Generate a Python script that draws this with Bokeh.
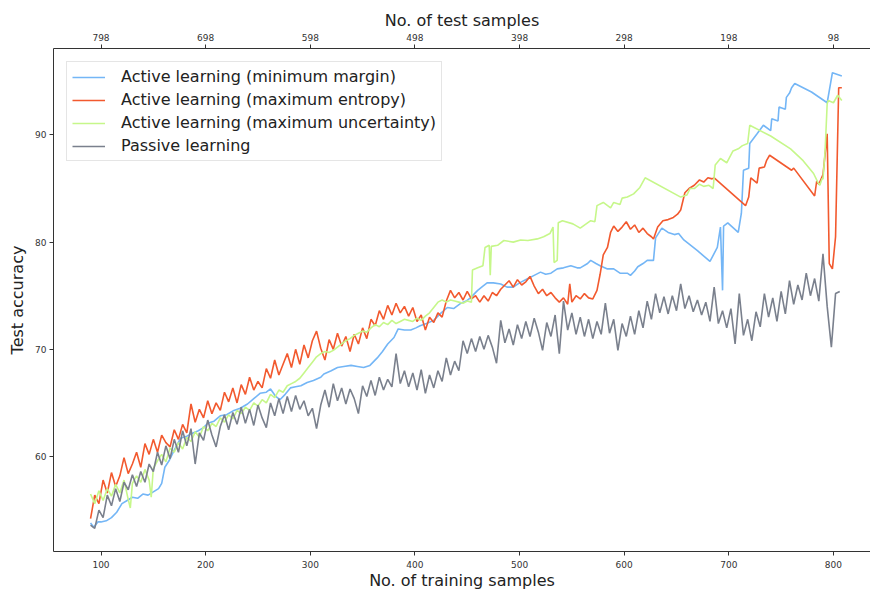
from bokeh.plotting import figure
from bokeh.models import Range1d, LinearAxis, FixedTicker, Legend, LegendItem
from bokeh.embed import file_html
from bokeh.resources import INLINE

# ---------------- data ----------------
train_ticks = [100, 200, 300, 400, 500, 600, 700, 800]
test_tick_labels = ["798", "698", "598", "498", "398", "298", "198", "98"]
acc_ticks = [60, 70, 80, 90]

series_names = [
    "Active learning (minimum margin)",
    "Active learning (maximum entropy)",
    "Active learning (maximum uncertainty)",
    "Passive learning",
]

# (training samples, test accuracy)
margin_pts = [
    (90, 53.8), (93, 53.4), (97, 53.9), (100, 53.9), (105, 54.0), (110, 54.3), (115, 54.8),
    (120, 55.6), (125, 55.9), (130, 56.2), (135, 56.1), (140, 56.5), (145, 56.4), (150, 56.7),
    (155, 57.0), (158, 57.5), (161, 59.0), (165, 59.6), (170, 60.6), (176, 61.7), (182, 61.9),
    (188, 62.2), (193, 62.4), (198, 62.7), (202, 63.1), (208, 63.3), (214, 63.8), (220, 63.9),
    (227, 64.3), (233, 64.5), (240, 64.9), (246, 65.4), (252, 65.9), (258, 66.0), (262, 66.3),
    (267, 65.6), (271, 65.3), (276, 65.8), (281, 66.4), (286, 66.5), (291, 66.6), (297, 66.9),
    (303, 67.1), (310, 67.4), (313, 67.7), (320, 68.0), (326, 68.3), (332, 68.4), (339, 68.5),
    (345, 68.4), (351, 68.3), (357, 68.5), (364, 69.2), (369, 69.8), (374, 70.5), (380, 71.1),
    (384, 71.9), (390, 71.8), (396, 71.8), (401, 72.0), (405, 72.2), (411, 72.4), (418, 72.7),
    (424, 73.3), (431, 73.9), (437, 73.8), (444, 74.3), (449, 74.5), (453, 74.8), (460, 75.5),
    (465, 75.9), (469, 76.2), (475, 76.2), (482, 76.1), (488, 75.8), (494, 75.8), (500, 76.2),
    (508, 76.6), (514, 76.9), (520, 77.2), (525, 77.0), (530, 77.1), (536, 77.5), (542, 77.6),
    (549, 77.8), (555, 77.6), (558, 77.6), (565, 78.0), (568, 78.3), (573, 78.0), (577, 77.8),
    (584, 77.5), (590, 77.5), (596, 77.1), (603, 77.1), (606, 76.9), (610, 77.3), (613, 77.7),
    (618, 78.0), (622, 78.3), (628, 78.3), (630, 80.4), (636, 81.3), (642, 80.9), (648, 80.7),
    (652, 80.8), (657, 80.2), (670, 79.2), (682, 78.2), (689, 79.5), (692, 81.4), (694, 75.5),
    (695, 81.5), (699, 81.8), (709, 80.9), (712, 82.7), (714, 86.7), (719, 86.9), (720, 89.2),
    (727, 90.1), (733, 90.9), (740, 90.4), (741, 91.5), (747, 91.3), (748, 92.6), (754, 92.4),
    (755, 93.5), (758, 93.9), (760, 94.4), (763, 94.8), (779, 94.0), (794, 93.0), (799, 95.8),
    (808, 95.5),
]

entropy_pts = [
    (90, 54.2), (94, 56.4), (98, 55.6), (102, 57.8), (106, 56.6), (110, 58.5), (114, 57.2),
    (118, 58.2), (122, 59.9), (126, 58.4), (130, 59.3), (134, 60.4), (138, 59.0), (142, 61.2),
    (146, 60.2), (150, 61.6), (154, 60.4), (158, 62.0), (162, 61.3), (166, 60.9), (170, 62.5),
    (174, 61.6), (178, 63.0), (182, 62.2), (186, 64.9), (190, 63.2), (194, 64.4), (198, 63.6),
    (202, 65.2), (206, 64.0), (210, 65.0), (214, 64.3), (218, 66.0), (222, 65.1), (226, 66.4),
    (230, 65.0), (234, 66.7), (238, 65.8), (242, 67.4), (246, 66.2), (250, 67.0), (254, 66.4),
    (258, 68.2), (262, 67.3), (266, 69.0), (270, 67.6), (274, 68.6), (278, 69.6), (282, 68.3),
    (286, 70.0), (290, 68.6), (294, 70.4), (298, 69.2), (302, 70.8), (306, 71.7), (310, 70.1),
    (314, 69.0), (318, 70.9), (322, 70.0), (326, 71.5), (330, 70.3), (334, 71.2), (338, 69.8),
    (342, 71.4), (346, 70.5), (350, 72.0), (354, 71.0), (358, 72.8), (362, 72.2), (366, 73.6),
    (370, 72.8), (374, 74.1), (378, 73.2), (382, 74.3), (386, 73.4), (390, 74.0), (394, 73.1),
    (398, 73.9), (402, 72.6), (406, 73.2), (410, 71.8), (414, 73.0), (418, 72.5), (422, 73.4),
    (426, 73.0), (430, 74.5), (434, 75.5), (438, 74.8), (442, 75.3), (446, 74.6), (450, 75.4),
    (454, 74.7), (458, 75.0), (462, 74.4), (466, 75.0), (470, 74.5), (474, 75.3), (478, 75.0),
    (482, 75.6), (486, 76.0), (490, 76.4), (494, 75.8), (498, 76.5), (502, 76.0), (506, 76.3),
    (510, 76.8), (514, 75.9), (518, 75.2), (522, 75.6), (526, 75.0), (530, 75.3), (534, 74.8),
    (538, 74.4), (542, 74.8), (546, 74.2), (548, 76.1), (550, 74.4), (554, 75.0), (558, 74.7),
    (562, 75.2), (566, 74.8), (570, 74.7), (574, 75.5), (577, 77.0), (580, 78.8), (584, 79.5),
    (587, 80.9), (590, 81.5), (594, 81.0), (598, 81.4), (602, 81.9), (606, 81.2), (610, 81.6),
    (614, 80.9), (618, 81.3), (622, 80.8), (626, 80.5), (628, 80.3), (632, 81.4), (637, 82.0),
    (642, 82.1), (647, 82.3), (651, 82.6), (654, 83.0), (658, 84.6), (662, 85.0), (667, 85.3),
    (672, 85.8), (676, 85.6), (680, 86.0), (684, 85.9), (686, 86.0), (716, 83.4), (719, 84.2),
    (721, 86.0), (727, 85.5), (729, 86.9), (734, 87.0), (736, 87.6), (739, 88.1), (760, 86.7),
    (762, 86.9), (782, 84.3), (784, 85.7), (786, 85.4), (790, 86.3), (794, 90.1), (796, 78.0),
    (799, 77.5), (802, 80.5), (805, 94.4), (808, 94.4),
]

uncertainty_pts = [
    (90, 56.5), (94, 55.6), (98, 56.8), (102, 55.9), (106, 57.0), (110, 56.3), (114, 57.4),
    (118, 56.6), (122, 57.8), (126, 56.0), (128, 55.2), (130, 57.5), (134, 58.2), (138, 57.6),
    (142, 58.8), (146, 57.8), (148, 56.2), (150, 58.9), (154, 59.6), (158, 60.2), (162, 59.5),
    (166, 60.8), (170, 60.4), (174, 61.3), (178, 60.7), (182, 61.8), (186, 61.4), (190, 62.3),
    (194, 61.8), (198, 62.8), (202, 62.4), (206, 63.1), (210, 62.8), (214, 63.6), (218, 63.2),
    (222, 63.9), (226, 63.5), (230, 64.3), (234, 64.0), (238, 64.6), (242, 64.3), (246, 65.0),
    (250, 64.7), (254, 65.3), (258, 65.0), (262, 65.8), (266, 65.5), (270, 66.2), (274, 66.0),
    (278, 66.6), (282, 66.8), (286, 67.0), (290, 67.3), (294, 67.8), (298, 68.3), (302, 68.8),
    (306, 69.3), (310, 69.6), (314, 69.8), (318, 69.7), (322, 69.9), (326, 70.2), (330, 70.5),
    (334, 70.8), (338, 71.0), (342, 71.3), (346, 71.5), (350, 71.7), (354, 71.6), (358, 72.0),
    (362, 72.3), (366, 72.1), (370, 72.5), (374, 72.3), (378, 72.7), (382, 72.4), (386, 72.6),
    (390, 72.8), (394, 72.7), (398, 72.6), (402, 72.9), (406, 72.7), (410, 73.1), (414, 73.4),
    (418, 73.9), (422, 74.4), (426, 74.6), (430, 74.4), (434, 74.6), (438, 74.5), (442, 74.4),
    (446, 74.3), (450, 74.5), (454, 74.4), (455, 77.4), (460, 77.6), (465, 77.8), (467, 79.5),
    (471, 79.7), (472, 76.9), (473, 79.6), (479, 79.7), (485, 80.15), (494, 80.0), (501, 80.2),
    (508, 80.15), (517, 80.3), (523, 80.5), (529, 80.8), (532, 81.4), (533, 78.1), (536, 78.3),
    (537, 81.8), (541, 82.0), (551, 81.7), (558, 81.3), (568, 82.0), (572, 81.9), (574, 83.4),
    (580, 83.7), (587, 83.2), (590, 83.7), (596, 83.5), (598, 84.1), (603, 84.2), (609, 84.5),
    (615, 85.1), (620, 86.0), (654, 84.2), (660, 84.4), (663, 85.0), (667, 85.0), (672, 85.4),
    (676, 85.2), (681, 85.3), (685, 85.0), (687, 87.2), (692, 87.8), (698, 87.4), (704, 88.5),
    (709, 88.7), (713, 89.0), (718, 89.2), (720, 90.9), (740, 89.9), (759, 88.7), (771, 87.6),
    (781, 86.4), (785, 85.6), (787, 85.3), (789, 85.9), (790, 85.9), (792, 88.5), (794, 92.9),
    (795, 93.2), (800, 93.0), (804, 93.7), (808, 93.2),
]

# passive learning: one value every 4 training samples, starting at 90
passive_start, passive_step = 90, 4
passive_acc = [
    53.6, 53.3, 55.0, 54.3, 56.4, 55.4, 57.0, 55.8, 57.6, 56.9,
    58.3, 57.2, 58.6, 57.6, 59.3, 58.6, 60.4, 59.2, 61.0, 59.8,
    61.6, 60.4, 62.4, 61.0, 62.6, 59.3, 62.2, 61.5, 63.4, 62.0,
    60.9, 62.8, 63.9, 62.5, 64.1, 63.0, 64.6, 63.1, 64.4, 62.9,
    64.8, 63.6, 62.7, 65.0, 63.8, 65.4, 64.0, 65.6, 64.2, 65.7,
    64.4, 65.2, 63.8, 64.5, 62.6, 64.8, 66.2, 64.6, 66.8, 65.2,
    66.4, 64.9, 66.3, 65.4, 64.0, 66.6, 65.6, 67.1, 65.7, 67.4,
    66.2, 67.2, 66.5, 69.6, 66.8, 68.0, 66.5, 67.8, 66.2, 68.1,
    65.9, 67.6, 66.4, 68.0, 67.0, 69.2, 67.6, 68.9, 68.0, 70.8,
    69.6, 71.0, 69.8, 71.2, 70.0, 71.3, 70.2, 68.7, 72.7, 70.6,
    71.9, 70.4, 72.3, 71.0, 72.6, 71.2, 72.9, 71.6, 69.9, 72.5,
    71.2, 73.2, 69.6, 74.5, 71.8, 73.4, 71.4, 73.0, 71.2, 72.8,
    71.0, 72.6, 71.4, 74.3, 71.5, 72.8, 69.9, 72.4, 71.2, 73.1,
    71.4, 73.6, 72.0, 74.5, 72.8, 75.2, 73.4, 74.9, 73.3, 75.0,
    73.6, 76.1, 73.8, 75.0, 73.5, 74.6, 73.2, 74.4, 72.6, 75.8,
    72.4, 73.6, 72.0, 73.8, 70.5, 75.2, 71.3, 72.8, 70.8, 73.5,
    72.1, 75.2, 73.0, 74.8, 72.6, 75.4, 73.3, 76.4, 74.2, 76.0,
    74.6, 77.1, 75.0, 76.6, 74.5, 78.9, 74.0, 70.2, 75.2, 75.4,
]

colors = ["#74b6f6", "#f2592e", "#c6f78a", "#7a808d"]

# ---------------- figure ----------------
FONT = "DejaVu Sans"
p = figure(width=870, height=592, output_backend="svg", toolbar_location=None,
           x_range=Range1d(54.6, 835.4), y_range=Range1d(51.14, 98.06),
           min_border_left=53, min_border_right=0, min_border_top=48, min_border_bottom=41,
           x_axis_label="No. of training samples", y_axis_label="Test accuracy")
p.outline_line_color = None
p.grid.visible = False
p.background_fill_color = "white"
p.border_fill_color = "white"

top_axis = LinearAxis(ticker=FixedTicker(ticks=train_ticks),
                      major_label_overrides=dict(zip(train_ticks, test_tick_labels)),
                      axis_label="No. of test samples")
p.add_layout(top_axis, "above")
bottom_axis = p.below[0]
bottom_axis.ticker = FixedTicker(ticks=train_ticks)
p.yaxis.ticker = FixedTicker(ticks=acc_ticks)

for ax in [bottom_axis, top_axis] + list(p.yaxis):
    ax.axis_line_color = "#333333"
    ax.axis_line_width = 1
    ax.major_tick_line_color = "#333333"
    ax.major_tick_out = 4
    ax.major_tick_in = 0
    ax.minor_tick_line_color = None
    ax.major_label_text_font = FONT
    ax.major_label_text_font_size = "9px"
    ax.major_label_text_color = "#333333"
    ax.axis_label_text_font = FONT
    ax.axis_label_text_font_size = "16px"
    ax.axis_label_text_font_style = "normal"
    ax.axis_label_text_color = "#222222"
bottom_axis.major_label_standoff = 5
bottom_axis.axis_label_standoff = 0
top_axis.major_label_standoff = 4
top_axis.axis_label_standoff = 1
p.yaxis.major_label_standoff = 3
p.yaxis.axis_label_standoff = 5

renderers = []
for pts, c in zip([margin_pts, entropy_pts, uncertainty_pts], colors[:3]):
    xs = [a for a, b in pts]
    ys = [b for a, b in pts]
    renderers.append(p.line(xs, ys, line_color=c, line_width=1.6))
passive_x = [passive_start + passive_step * i for i in range(len(passive_acc))]
renderers.append(p.line(passive_x, passive_acc, line_color=colors[3], line_width=1.6))

legend = Legend(items=[LegendItem(label=n, renderers=[r]) for n, r in zip(series_names, renderers)],
                location="top_left")
legend.margin = 13
legend.padding = 5
legend.spacing = 4
legend.glyph_width = 33
legend.glyph_height = 18
legend.label_height = 18
legend.label_standoff = 16
legend.label_text_font = FONT
legend.label_text_font_size = "16px"
legend.label_text_color = "#222222"
legend.border_line_color = "#cccccc"
legend.border_line_width = 1
legend.background_fill_color = "white"
legend.background_fill_alpha = 0.8
p.add_layout(legend)

open("out.html", "w").write(file_html(p, INLINE))
